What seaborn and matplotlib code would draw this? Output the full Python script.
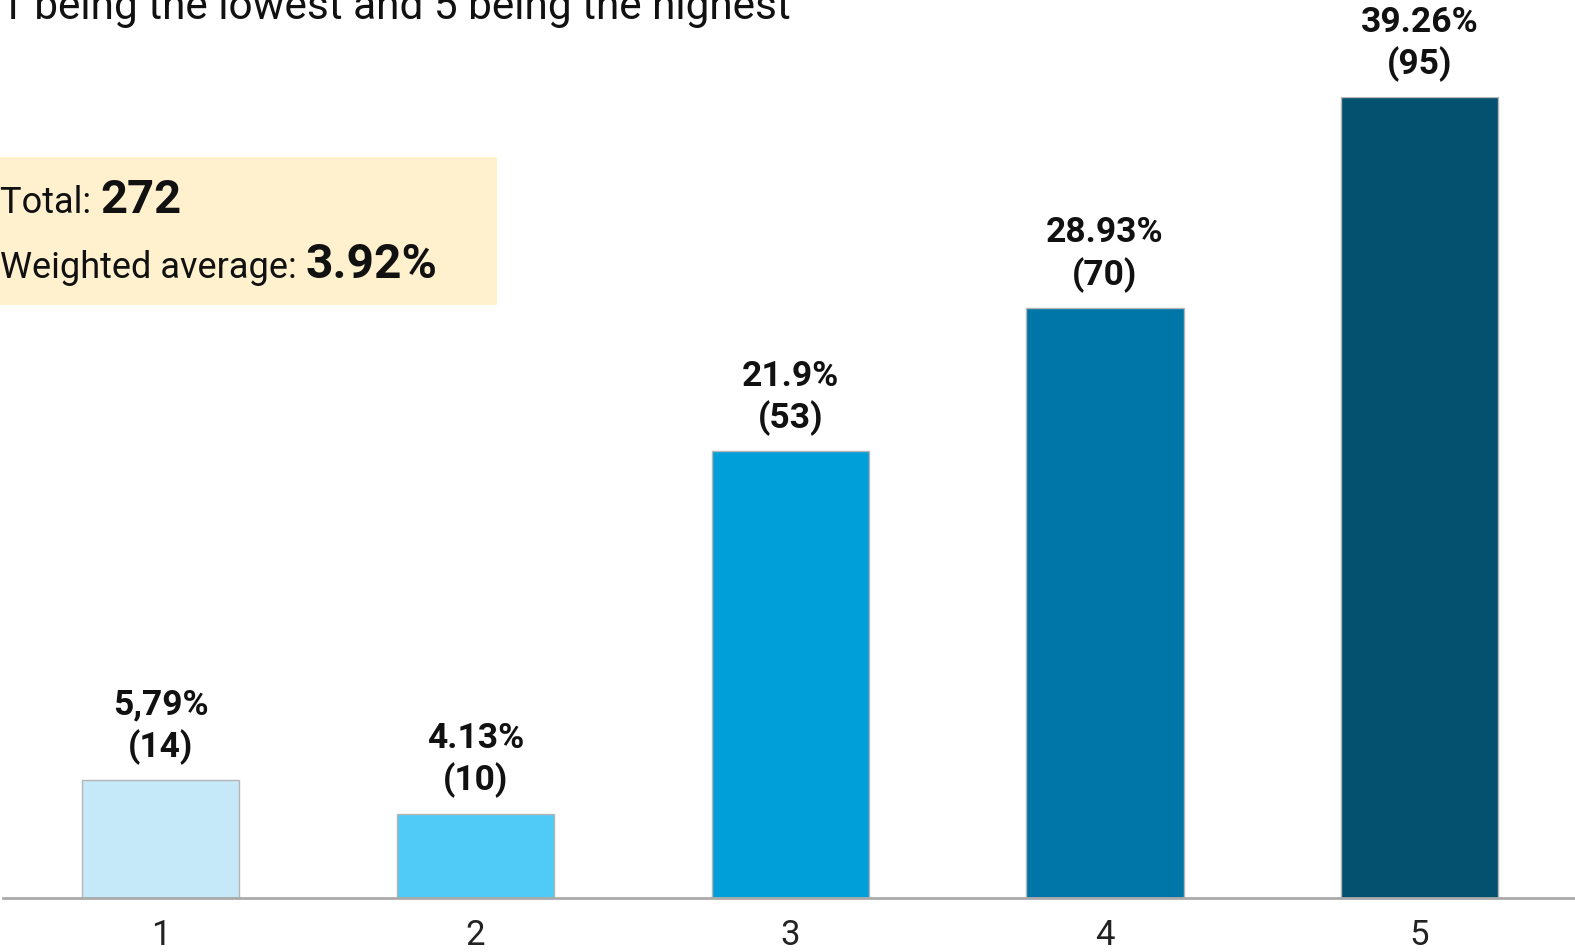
import matplotlib
matplotlib.use("Agg")
import matplotlib.pyplot as plt
import seaborn as sns
import pandas as pd
from matplotlib.patches import Rectangle

# ---- data ----
categories = ["1", "2", "3", "4", "5"]
counts = [14, 10, 53, 70, 95]
pct_labels = ["5,79%", "4.13%", "21.9%", "28.93%", "39.26%"]
bar_colors = ["#C6E9F9", "#50CBF8", "#009FDA", "#0076A8", "#03506F"]
subtitle = "1 being the lowest and 5 being the highest"
total_value = "272"
weighted_avg = "3.92%"

sns.set_theme(style="white")
plt.rcParams['font.family'] = ['Roboto', 'DejaVu Sans']

W, H = 1575, 952
fig = plt.figure(figsize=(W / 100, H / 100), dpi=100)
ax = fig.add_axes([0.0022, 0.0567, 0.999, 0.841])

df = pd.DataFrame({"rating": categories, "count": counts})
sns.barplot(data=df, x="rating", y="count", hue="rating",
            palette=dict(zip(categories, bar_colors)), legend=False,
            width=0.5, edgecolor="#b5b5b5", linewidth=1.0, ax=ax,
            saturation=1)

ax.set_xlim(-0.5, 4.5)
ax.set_ylim(0, 95)
ax.set_xlabel("")
ax.set_ylabel("")
ax.set_yticks([])
for s in ["top", "right", "left"]:
    ax.spines[s].set_visible(False)
ax.spines["bottom"].set_color("#aaaaaa")
ax.spines["bottom"].set_linewidth(2.0)
ax.tick_params(axis="x", length=0, pad=15, labelsize=25, labelcolor="#222222")

# value labels
for i, (c, p) in enumerate(zip(counts, pct_labels)):
    ax.annotate(f"{p}\n({c})", xy=(i, c), xytext=(0, 11), textcoords="offset points",
                ha="center", va="bottom", fontsize=25.5, fontweight="bold",
                color="#111111", linespacing=1.28, clip_on=False,
                annotation_clip=False)

# subtitle (cut at top)
fig.text(0.0, 1 - 18.5 / H, subtitle, ha="left", va="baseline", fontsize=30.5,
         color="#111111")

# summary box
fig.patches.append(Rectangle((0, 1 - 305 / H), 497 / W, (305 - 157) / H,
                             transform=fig.transFigure, facecolor="#FFF0CE",
                             edgecolor="none", zorder=0))

fig.canvas.draw()
renderer = fig.canvas.get_renderer()

def two_part(y_px, normal, bold, size_n, size_b):
    t1 = fig.text(0.0, 1 - y_px / H, normal, ha="left", va="baseline",
                  fontsize=size_n, color="#111111")
    bb = t1.get_window_extent(renderer=renderer)
    fig.text(bb.x1 / W, 1 - y_px / H, bold, ha="left", va="baseline",
             fontsize=size_b, fontweight="bold", color="#111111")

two_part(213, "Total: ", total_value, 26, 34)
two_part(278, "Weighted average: ", weighted_avg, 26, 34.5)

fig.savefig("out.png", dpi=100)
